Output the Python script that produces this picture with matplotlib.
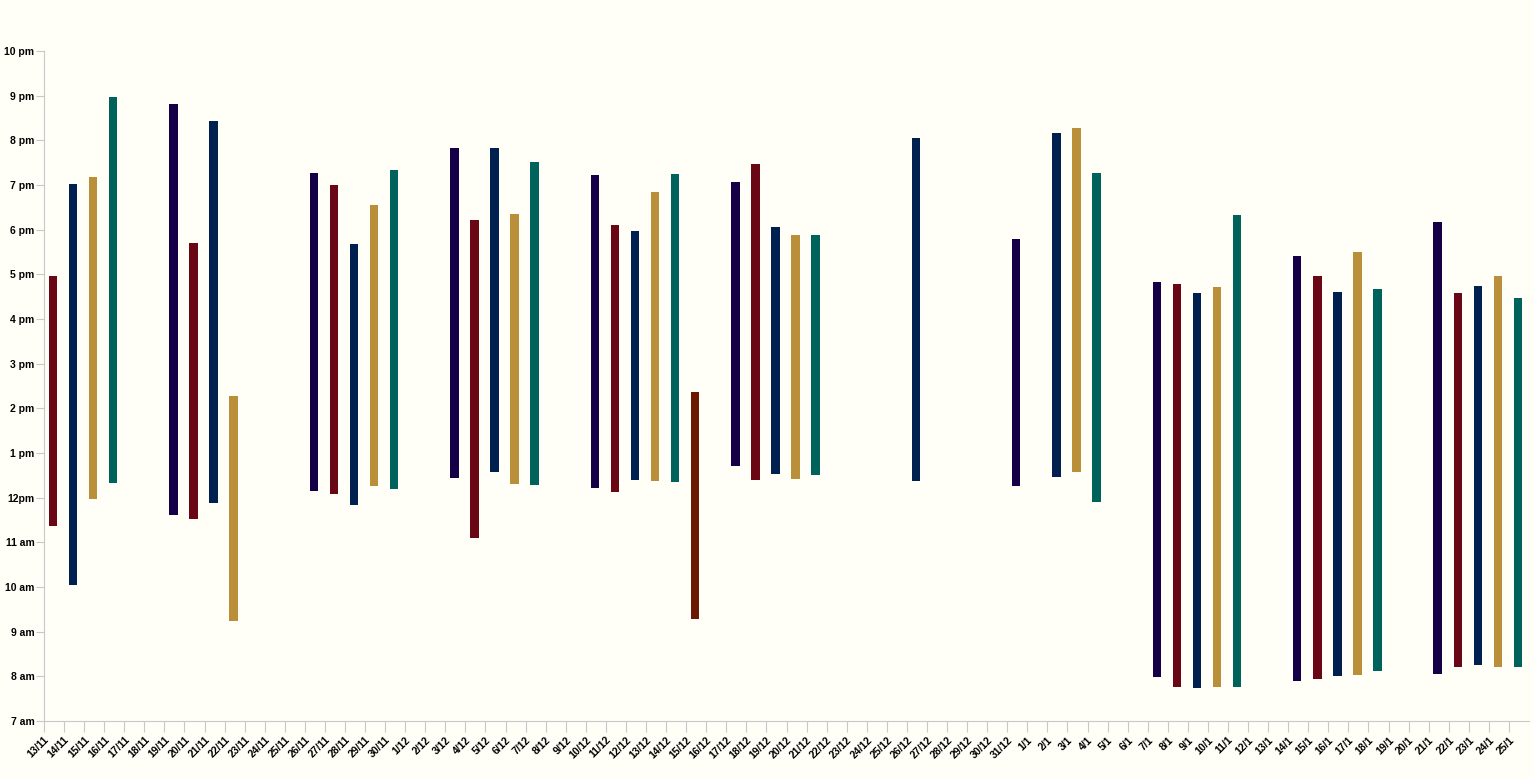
import datetime as dt
import matplotlib.pyplot as plt

# 出勤记录：日期、开始时间（小时）、结束时间（小时）
days = ['13/11', '14/11', '15/11', '16/11', '19/11', '20/11', '21/11', '22/11',
        '26/11', '27/11', '28/11', '29/11', '30/11',
        '3/12', '4/12', '5/12', '6/12', '7/12',
        '10/12', '11/12', '12/12', '13/12', '14/12', '15/12',
        '17/12', '18/12', '19/12', '20/12', '21/12',
        '26/12', '31/12', '2/1', '3/1', '4/1',
        '7/1', '8/1', '9/1', '10/1', '11/1',
        '14/1', '15/1', '16/1', '17/1', '18/1',
        '21/1', '22/1', '23/1', '24/1', '25/1']
start = [11.37, 10.05, 11.97, 12.33, 11.61, 11.52, 11.88, 9.24,
         12.15, 12.08, 11.84, 12.26, 12.19,
         12.44, 11.10, 12.58, 12.31, 12.28,
         12.22, 12.13, 12.40, 12.37, 12.35, 9.28,
         12.71, 12.40, 12.53, 12.42, 12.51,
         12.37, 12.26, 12.46, 12.58, 11.90,
         7.99, 7.76, 7.74, 7.76, 7.76,
         7.90, 7.94, 8.01, 8.03, 8.12,
         8.05, 8.21, 8.25, 8.21, 8.21]
end = [16.96, 19.02, 19.18, 20.97, 20.81, 17.70, 20.43, 14.28,
       19.27, 19.00, 17.68, 18.55, 19.34,
       19.83, 18.22, 19.83, 18.35, 19.52,
       19.22, 18.10, 17.97, 18.85, 19.25, 14.37,
       19.07, 19.47, 18.06, 17.88, 17.88,
       20.05, 17.79, 20.16, 20.28, 19.27,
       16.83, 16.78, 16.58, 16.72, 18.33,
       17.41, 16.96, 16.60, 17.50, 16.67,
       18.17, 16.58, 16.74, 16.96, 16.47]

hour_labels = ['7 am', '8 am', '9 am', '10 am', '11 am', '12pm', '1 pm', '2 pm',
               '3 pm', '4 pm', '5 pm', '6 pm', '7 pm', '8 pm', '9 pm', '10 pm']

weekday_colors = {0: '#150047', 1: '#690715', 2: '#00204f', 3: '#b98f3a', 4: '#00635b'}
special_color = '#6b1800'  # 15/12
bg = '#fffff8'


def to_date(s):
    d, m = [int(v) for v in s.split('/')]
    return dt.date(2018 if m >= 11 else 2019, m, d)


first = dt.date(2018, 11, 13)
last = dt.date(2019, 1, 26)
n_days = (last - first).days

fig = plt.figure(figsize=(15.34, 7.78), dpi=100, facecolor=bg)
ax = fig.add_axes([44 / 1534, 1 - 721 / 778, (1529 - 44) / 1534, 670 / 778])
ax.set_facecolor(bg)

for s, a, b in zip(days, start, end):
    d = to_date(s)
    x = (d - first).days + 0.45
    c = special_color if s == '15/12' else weekday_colors[d.weekday()]
    ax.bar(x, b - a, bottom=a, width=0.42, color=c)

ax.set_xlim(0, n_days)
ax.set_ylim(7, 22)

ticks = list(range(n_days))
tick_labels = [(first + dt.timedelta(days=i)).strftime('%d/%m').lstrip('0').replace('/0', '/')
               for i in ticks]
ax.set_xticks(ticks)
ax.set_xticklabels(tick_labels, rotation=45, ha='right', va='top',
                   rotation_mode='anchor', fontsize=7.5, fontweight='bold',
                   family='Liberation Sans')
ax.set_yticks(range(7, 23))
ax.set_yticklabels(hour_labels, fontsize=7.5, fontweight='bold', family='Liberation Sans')

for side in ['top', 'right']:
    ax.spines[side].set_visible(False)
for side in ['left', 'bottom']:
    ax.spines[side].set_color('#c8c8c8')
ax.tick_params(axis='y', length=6, color='#c8c8c8', pad=1)
ax.tick_params(axis='x', length=8, color='#c8c8c8', pad=2)

fig.savefig('out.png', dpi=100, facecolor=bg)
